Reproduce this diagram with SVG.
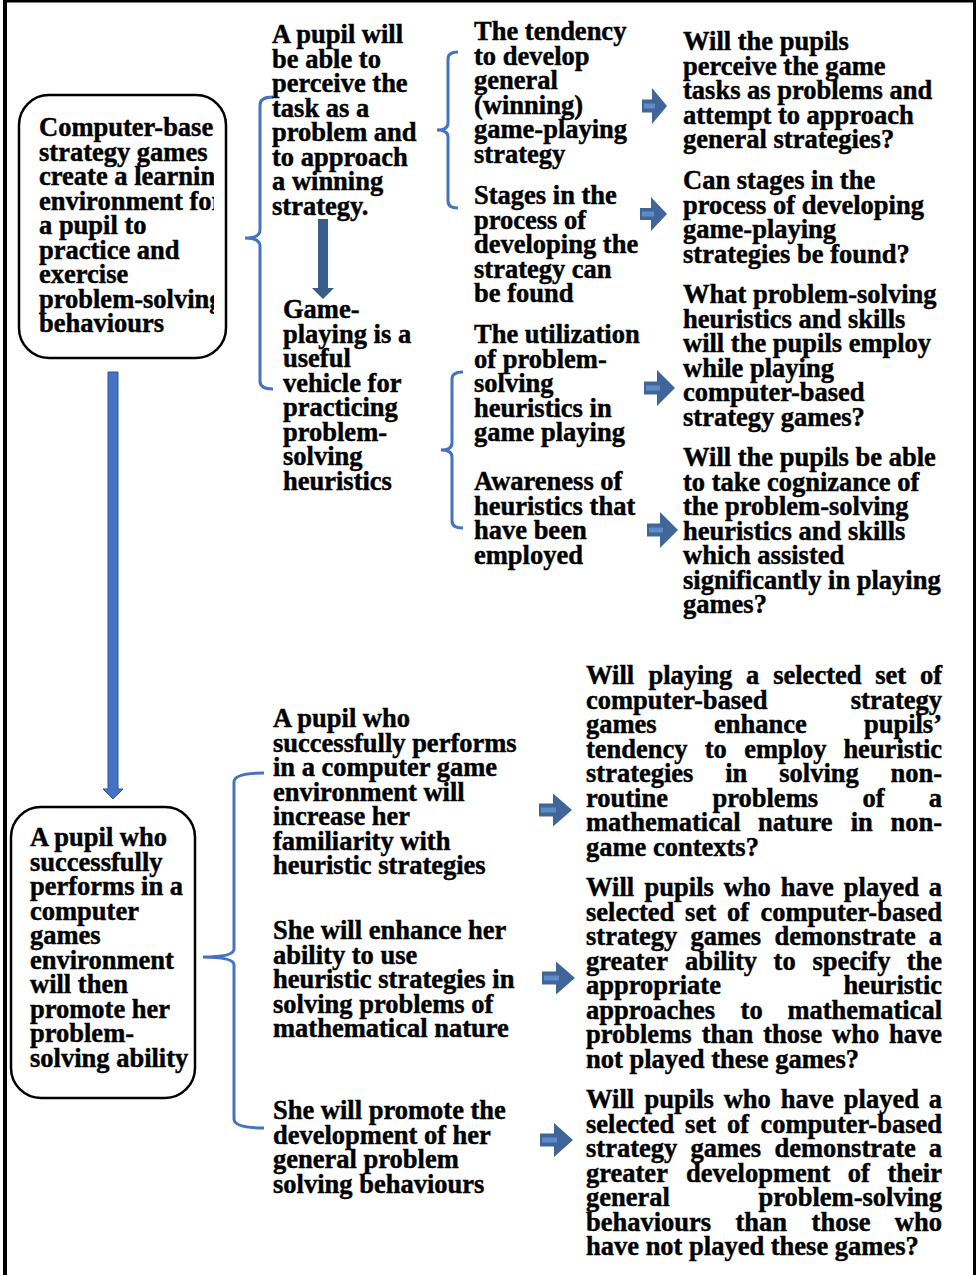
<svg xmlns="http://www.w3.org/2000/svg" width="979" height="1275" viewBox="0 0 979 1275">
<style>
.t{font-family:"Liberation Serif","Times New Roman",serif;font-weight:bold;font-size:26.5px;fill:#000;stroke:#000;stroke-width:0.45px}
.e{text-anchor:end}
.box{fill:#fff;stroke:#000;stroke-width:2.5}
.brace{fill:none;stroke:#4472C4;stroke-width:3}
.barrow{fill:#3F6599}
.hl{fill:#5C8BC8}
</style>
<defs>
<clipPath id="clipTop"><rect x="19" y="95" width="195" height="263"/></clipPath>
</defs>
<rect width="979" height="1275" fill="#fff"/>
<g id="frame" stroke="#000" fill="none">
<line x1="5" y1="0" x2="5" y2="1275" stroke-width="4"/>
<line x1="3" y1="1.2" x2="976" y2="1.2" stroke-width="2.5"/>
<line x1="974.5" y1="0" x2="974.5" y2="1275" stroke-width="3"/>
</g>

<g id="connectors">
<path class="brace" d="M273,97 Q260,97 260,105 V230 Q260,238 245,238 Q260,238 260,246 V381 Q260,389 273,389"/>
<path class="brace" d="M458,52 Q448,52 448,59 V123 Q448,130 437,130 Q448,130 448,137 V201 Q448,208 458,208"/>
<path class="brace" d="M463,372 Q452,372 452,379 V443 Q452,450 441,450 Q452,450 452,457 V521 Q452,528 463,528"/>
<path class="brace" d="M264,773 Q234,773 234,782 V949 Q234,957 203,957 Q234,957 234,965 V1119 Q234,1128 264,1128"/>
<path d="M108,372 H118 V789 H123 L113,799 L103,789 H108 Z" fill="#4472C4" stroke="#2F528F" stroke-width="1"/>
<path d="M318,219 H328 V288 H334 L323,299 L312,288 H318 Z" fill="#385D8A"/>
<path class="barrow" d="M642,99.5 H652 V88 L667,106 L652,124 V112.5 H642 Z"/>
<rect class="hl" x="644" y="103.5" width="11" height="5"/>
<path class="barrow" d="M640,208 H651 V197 L667,214 L651,231 V220 H640 Z"/>
<rect class="hl" x="642" y="211.5" width="12" height="5"/>
<path class="barrow" d="M644,381.5 H657 V370 L675,388 L657,406 V394.5 H644 Z"/>
<rect class="hl" x="646" y="385.5" width="14" height="5"/>
<path class="barrow" d="M647,523.5 H660 V512 L678,530 L660,548 V536.5 H647 Z"/>
<rect class="hl" x="649" y="527.5" width="14" height="5"/>
<path class="barrow" d="M539,803.5 H553 V793.5 L572,810 L553,826.5 V816.5 H539 Z"/>
<rect class="hl" x="541" y="807.5" width="15" height="5"/>
<path class="barrow" d="M542,971.5 H556 V961.5 L575,978 L556,994.5 V984.5 H542 Z"/>
<rect class="hl" x="544" y="975.5" width="15" height="5"/>
<path class="barrow" d="M540,1133.5 H554 V1123 L573,1140 L554,1157 V1146.5 H540 Z"/>
<rect class="hl" x="542" y="1137.5" width="15" height="5"/>
</g>

<g id="node-computer-games">
<rect class="box" x="19" y="95" width="207" height="263" rx="30"/>
<text class="t" clip-path="url(#clipTop)" x="39" y="136">
<tspan x="39">Computer-based</tspan>
<tspan x="39" dy="24.5">strategy games</tspan>
<tspan x="39" dy="24.5">create a learning</tspan>
<tspan x="39" dy="24.5">environment for</tspan>
<tspan x="39" dy="24.5">a pupil to</tspan>
<tspan x="39" dy="24.5">practice and</tspan>
<tspan x="39" dy="24.5">exercise</tspan>
<tspan x="39" dy="24.5">problem-solving</tspan>
<tspan x="39" dy="24.5">behaviours</tspan>
</text>
</g>

<g id="node-perceive">
<text class="t" y="43">
<tspan x="272">A pupil will</tspan>
<tspan x="272" dy="24.5">be able to</tspan>
<tspan x="272" dy="24.5">perceive the</tspan>
<tspan x="272" dy="24.5">task as a</tspan>
<tspan x="272" dy="24.5">problem and</tspan>
<tspan x="272" dy="24.5">to approach</tspan>
<tspan x="272" dy="24.5">a winning</tspan>
<tspan x="272" dy="24.5">strategy.</tspan>
</text>
</g>

<g id="node-vehicle">
<text class="t" y="318">
<tspan x="283">Game-</tspan>
<tspan x="283" dy="24.5">playing is a</tspan>
<tspan x="283" dy="24.5">useful</tspan>
<tspan x="283" dy="24.5">vehicle for</tspan>
<tspan x="283" dy="24.5">practicing</tspan>
<tspan x="283" dy="24.5">problem-</tspan>
<tspan x="283" dy="24.5">solving</tspan>
<tspan x="283" dy="24.5">heuristics</tspan>
</text>
</g>

<g id="node-tendency">
<text class="t" y="40">
<tspan x="474">The tendency</tspan>
<tspan x="474" dy="24.5">to develop</tspan>
<tspan x="474" dy="24.5">general</tspan>
<tspan x="474" dy="24.5">(winning)</tspan>
<tspan x="474" dy="24.5">game-playing</tspan>
<tspan x="474" dy="24.5">strategy</tspan>
</text>
</g>

<g id="node-stages">
<text class="t" y="204">
<tspan x="474">Stages in the</tspan>
<tspan x="474" dy="24.5">process of</tspan>
<tspan x="474" dy="24.5">developing the</tspan>
<tspan x="474" dy="24.5">strategy can</tspan>
<tspan x="474" dy="24.5">be found</tspan>
</text>
</g>

<g id="node-utilization">
<text class="t" y="343">
<tspan x="474">The utilization</tspan>
<tspan x="474" dy="24.5">of problem-</tspan>
<tspan x="474" dy="24.5">solving</tspan>
<tspan x="474" dy="24.5">heuristics in</tspan>
<tspan x="474" dy="24.5">game playing</tspan>
</text>
</g>

<g id="node-awareness">
<text class="t" y="490">
<tspan x="474">Awareness of</tspan>
<tspan x="474" dy="24.5">heuristics that</tspan>
<tspan x="474" dy="24.5">have been</tspan>
<tspan x="474" dy="24.5">employed</tspan>
</text>
</g>

<g id="node-q1">
<text class="t" y="50">
<tspan x="683">Will the pupils</tspan>
<tspan x="683" dy="24.5">perceive the game</tspan>
<tspan x="683" dy="24.5">tasks as problems and</tspan>
<tspan x="683" dy="24.5">attempt to approach</tspan>
<tspan x="683" dy="24.5">general strategies?</tspan>
</text>
</g>

<g id="node-q2">
<text class="t" y="189">
<tspan x="683">Can stages in the</tspan>
<tspan x="683" dy="24.5">process of developing</tspan>
<tspan x="683" dy="24.5">game-playing</tspan>
<tspan x="683" dy="24.5">strategies be found?</tspan>
</text>
</g>

<g id="node-q3">
<text class="t" y="303">
<tspan x="683">What problem-solving</tspan>
<tspan x="683" dy="24.5">heuristics and skills</tspan>
<tspan x="683" dy="24.5">will the pupils employ</tspan>
<tspan x="683" dy="24.5">while playing</tspan>
<tspan x="683" dy="24.5">computer-based</tspan>
<tspan x="683" dy="24.5">strategy games?</tspan>
</text>
</g>

<g id="node-q4">
<text class="t" y="466">
<tspan x="683">Will the pupils be able</tspan>
<tspan x="683" dy="24.5">to take cognizance of</tspan>
<tspan x="683" dy="24.5">the problem-solving</tspan>
<tspan x="683" dy="24.5">heuristics and skills</tspan>
<tspan x="683" dy="24.5">which assisted</tspan>
<tspan x="683" dy="24.5">significantly in playing</tspan>
<tspan x="683" dy="24.5">games?</tspan>
</text>
</g>

<g id="node-promote">
<rect class="box" x="11" y="807" width="184" height="291" rx="30"/>
<text class="t" y="846">
<tspan x="30">A pupil who</tspan>
<tspan x="30" dy="24.5">successfully</tspan>
<tspan x="30" dy="24.5">performs in a</tspan>
<tspan x="30" dy="24.5">computer</tspan>
<tspan x="30" dy="24.5">games</tspan>
<tspan x="30" dy="24.5">environment</tspan>
<tspan x="30" dy="24.5">will then</tspan>
<tspan x="30" dy="24.5">promote her</tspan>
<tspan x="30" dy="24.5">problem-</tspan>
<tspan x="30" dy="24.5">solving ability</tspan>
</text>
</g>

<g id="node-familiarity">
<text class="t" y="727">
<tspan x="273">A pupil who</tspan>
<tspan x="273" dy="24.5">successfully performs</tspan>
<tspan x="273" dy="24.5">in a computer game</tspan>
<tspan x="273" dy="24.5">environment will</tspan>
<tspan x="273" dy="24.5">increase her</tspan>
<tspan x="273" dy="24.5">familiarity with</tspan>
<tspan x="273" dy="24.5">heuristic strategies</tspan>
</text>
</g>

<g id="node-enhance">
<text class="t" y="939">
<tspan x="273">She will enhance her</tspan>
<tspan x="273" dy="24.5">ability to use</tspan>
<tspan x="273" dy="24.5">heuristic strategies in</tspan>
<tspan x="273" dy="24.5">solving problems of</tspan>
<tspan x="273" dy="24.5">mathematical nature</tspan>
</text>
</g>

<g id="node-development">
<text class="t" y="1119">
<tspan x="273">She will promote the</tspan>
<tspan x="273" dy="24.5">development of her</tspan>
<tspan x="273" dy="24.5">general problem</tspan>
<tspan x="273" dy="24.5">solving behaviours</tspan>
</text>
</g>

<g id="node-q5">
<text class="t"><tspan x="586" y="684">Will</tspan><tspan x="648.4" y="684">playing</tspan><tspan x="746" y="684">a</tspan><tspan x="773.2" y="684">selected</tspan><tspan x="875.2" y="684">set</tspan><tspan x="942" y="684" class="e">of</tspan></text>
<text class="t"><tspan x="586" y="708.5">computer-based</tspan><tspan x="942" y="708.5" class="e">strategy</tspan></text>
<text class="t"><tspan x="586" y="733">games</tspan><tspan x="714.1" y="733">enhance</tspan><tspan x="942" y="733" class="e">pupils’</tspan></text>
<text class="t"><tspan x="586" y="757.5">tendency</tspan><tspan x="704.7" y="757.5">to</tspan><tspan x="744.2" y="757.5">employ</tspan><tspan x="942" y="757.5" class="e">heuristic</tspan></text>
<text class="t"><tspan x="586" y="782">strategies</tspan><tspan x="725.2" y="782">in</tspan><tspan x="779.3" y="782">solving</tspan><tspan x="942" y="782" class="e">non-</tspan></text>
<text class="t"><tspan x="586" y="806.5">routine</tspan><tspan x="712.5" y="806.5">problems</tspan><tspan x="862.5" y="806.5">of</tspan><tspan x="942" y="806.5" class="e">a</tspan></text>
<text class="t"><tspan x="586" y="831">mathematical</tspan><tspan x="757.9" y="831">nature</tspan><tspan x="850.7" y="831">in</tspan><tspan x="942" y="831" class="e">non-</tspan></text>
<text class="t" x="586" y="855.5">game contexts?</text>
</g>

<g id="node-q6">
<text class="t"><tspan x="586" y="896">Will</tspan><tspan x="644.6" y="896">pupils</tspan><tspan x="723.7" y="896">who</tspan><tspan x="780.8" y="896">have</tspan><tspan x="843.8" y="896">played</tspan><tspan x="942" y="896" class="e">a</tspan></text>
<text class="t"><tspan x="586" y="920.5">selected</tspan><tspan x="685.1" y="920.5">set</tspan><tspan x="727" y="920.5">of</tspan><tspan x="942" y="920.5" class="e">computer-based</tspan></text>
<text class="t"><tspan x="586" y="945">strategy</tspan><tspan x="690.5" y="945">games</tspan><tspan x="774.5" y="945">demonstrate</tspan><tspan x="942" y="945" class="e">a</tspan></text>
<text class="t"><tspan x="586" y="969.5">greater</tspan><tspan x="684.9" y="969.5">ability</tspan><tspan x="773.6" y="969.5">to</tspan><tspan x="812.4" y="969.5">specify</tspan><tspan x="942" y="969.5" class="e">the</tspan></text>
<text class="t"><tspan x="586" y="994">appropriate</tspan><tspan x="942" y="994" class="e">heuristic</tspan></text>
<text class="t"><tspan x="586" y="1018.5">approaches</tspan><tspan x="740.6" y="1018.5">to</tspan><tspan x="942" y="1018.5" class="e">mathematical</tspan></text>
<text class="t"><tspan x="586" y="1043">problems</tspan><tspan x="701.8" y="1043">than</tspan><tspan x="763.3" y="1043">those</tspan><tspan x="832.1" y="1043">who</tspan><tspan x="942" y="1043" class="e">have</tspan></text>
<text class="t" x="586" y="1067.5">not played these games?</text>
</g>

<g id="node-q7">
<text class="t"><tspan x="586" y="1108">Will</tspan><tspan x="644.6" y="1108">pupils</tspan><tspan x="723.7" y="1108">who</tspan><tspan x="780.8" y="1108">have</tspan><tspan x="843.8" y="1108">played</tspan><tspan x="942" y="1108" class="e">a</tspan></text>
<text class="t"><tspan x="586" y="1132.5">selected</tspan><tspan x="685.1" y="1132.5">set</tspan><tspan x="727" y="1132.5">of</tspan><tspan x="942" y="1132.5" class="e">computer-based</tspan></text>
<text class="t"><tspan x="586" y="1157">strategy</tspan><tspan x="690.5" y="1157">games</tspan><tspan x="774.5" y="1157">demonstrate</tspan><tspan x="942" y="1157" class="e">a</tspan></text>
<text class="t"><tspan x="586" y="1181.5">greater</tspan><tspan x="686.1" y="1181.5">development</tspan><tspan x="847.8" y="1181.5">of</tspan><tspan x="942" y="1181.5" class="e">their</tspan></text>
<text class="t"><tspan x="586" y="1206">general</tspan><tspan x="942" y="1206" class="e">problem-solving</tspan></text>
<text class="t"><tspan x="586" y="1230.5">behaviours</tspan><tspan x="735.5" y="1230.5">than</tspan><tspan x="811.6" y="1230.5">those</tspan><tspan x="942" y="1230.5" class="e">who</tspan></text>
<text class="t" x="586" y="1255">have not played these games?</text>
</g>
</svg>
